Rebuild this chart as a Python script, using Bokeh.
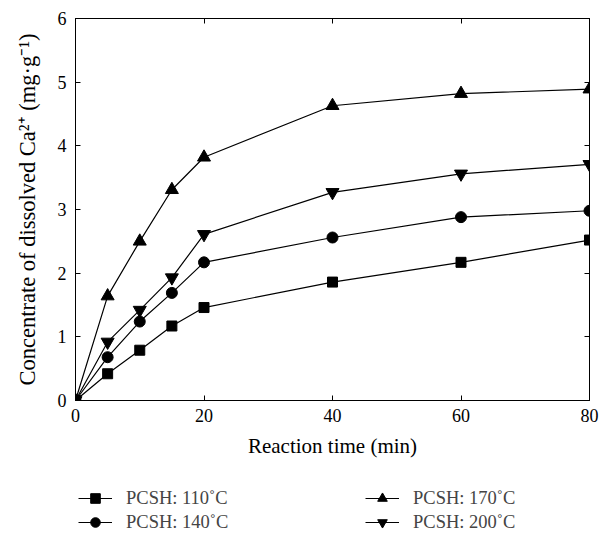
from bokeh.plotting import figure
from bokeh.layouts import column
from bokeh.models import Range1d, LinearAxis, Legend, LegendItem, FixedTicker
from bokeh.embed import file_html
from bokeh.resources import INLINE

time_min = [0, 5, 10, 15, 20, 40, 60, 80]
pcsh_110 = [0, 0.42, 0.79, 1.17, 1.46, 1.86, 2.17, 2.52]
pcsh_140 = [0, 0.68, 1.24, 1.69, 2.17, 2.56, 2.88, 2.98]
pcsh_170 = [0, 1.64, 2.50, 3.31, 3.82, 4.63, 4.82, 4.89]
pcsh_200 = [0, 0.92, 1.42, 1.93, 2.61, 3.27, 3.56, 3.71]
labels = ["PCSH: 110˚C", "PCSH: 140˚C", "PCSH: 170˚C", "PCSH: 200˚C"]
x_ticks = [0, 20, 40, 60, 80]
y_ticks = [0, 1, 2, 3, 4, 5, 6]

FONT = "Liberation Serif"

p = figure(width=600, height=484, output_backend="svg", toolbar_location=None,
           x_range=Range1d(0, 80), y_range=Range1d(0, 6),
           min_border_left=75, min_border_right=11, min_border_top=18, min_border_bottom=84)
p.grid.visible = False
p.outline_line_color = "black"
p.outline_line_width = 1
p.background_fill_color = "white"
p.border_fill_color = "white"

p.xaxis.axis_label = "Reaction time (min)"
p.yaxis.axis_label = "Concentrate of dissolved Ca²⁺ (mg·g⁻¹)"
for ax in (p.xaxis[0], p.yaxis[0]):
    ax.axis_label_text_font = FONT
    ax.axis_label_text_font_style = "normal"
    ax.axis_label_text_font_size = "21px"
    ax.major_label_text_font = FONT
    ax.major_label_text_font_size = "18px"
    ax.major_tick_in = 5
    ax.major_tick_out = 0
    ax.minor_tick_in = 0
    ax.minor_tick_out = 0
    ax.axis_line_color = "black"
    ax.major_tick_line_color = "black"
    ax.major_label_text_color = "black"
    ax.axis_label_text_color = "black"
p.yaxis.axis_label_text_font_size = "22.5px"
p.xaxis.ticker = FixedTicker(ticks=x_ticks)
p.yaxis.ticker = FixedTicker(ticks=y_ticks)
p.xaxis.axis_label_standoff = 9
p.yaxis.axis_label_standoff = 15
p.xaxis.major_label_standoff = 8
p.yaxis.major_label_standoff = 9

top = LinearAxis(ticker=FixedTicker(ticks=x_ticks),
                 major_label_overrides={t: "" for t in x_ticks},
                 major_tick_in=5, major_tick_out=0, minor_tick_in=0, minor_tick_out=0)
right = LinearAxis(ticker=FixedTicker(ticks=y_ticks),
                   major_label_overrides={t: "" for t in y_ticks},
                   major_tick_in=5, major_tick_out=0, minor_tick_in=0, minor_tick_out=0)
p.add_layout(top, "above")
p.add_layout(right, "right")

series = [(pcsh_110, "square", 10), (pcsh_140, "circle", 11),
          (pcsh_170, "triangle", 13), (pcsh_200, "inverted_triangle", 13)]
for ys, marker, size in series:
    p.line(time_min, ys, line_color="black", line_width=1.2)
    p.scatter(time_min, ys, marker=marker, size=size, fill_color="black", line_color="black")

# legend strip below the chart (same series, out of its visible range)
lf = figure(width=600, height=50, output_backend="svg", toolbar_location=None,
            x_range=Range1d(1000, 1001), y_range=Range1d(0, 6),
            x_axis_type=None, y_axis_type=None,
            min_border_left=0, min_border_right=0, min_border_top=0, min_border_bottom=0)
lf.grid.visible = False
lf.outline_line_color = None
lf.background_fill_color = "white"
lf.border_fill_color = "white"
items = []
for (ys, marker, size), lab in zip(series, labels):
    l = lf.line(time_min, ys, line_color="black", line_width=1.2)
    s = lf.scatter(time_min, ys, marker=marker, size=size, fill_color="black", line_color="black")
    items.append(LegendItem(label=lab, renderers=[l, s]))

ordered = [items[0], items[2], items[1], items[3]]
legend = Legend(items=ordered, location=(3, 0), orientation="horizontal", ncols=2,
                glyph_width=34, glyph_height=24, label_height=24, label_standoff=14,
                label_width=239, spacing=0, padding=0, margin=0,
                label_text_font=FONT, label_text_font_size="18.5px",
                border_line_color=None, background_fill_alpha=0)
lf.add_layout(legend, "center")

open("out.html", "w").write(file_html(column(p, lf, spacing=0), INLINE))
